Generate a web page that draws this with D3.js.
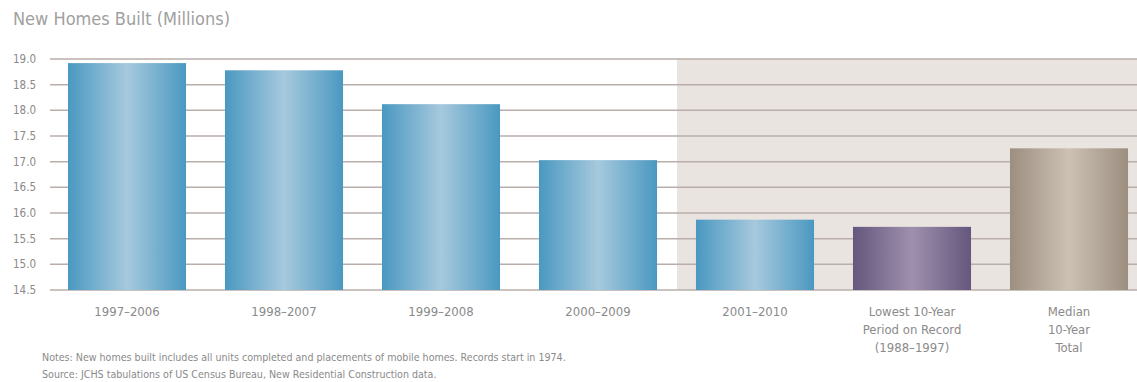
<!DOCTYPE html>
<html><head><meta charset="utf-8">
<script src="https://cdn.jsdelivr.net/npm/d3@7"></script>
<style>
body{margin:0;background:#fff;}
text{font-family:"Liberation Sans Narrow","DejaVu Sans Condensed","Roboto",sans-serif;}
</style></head>
<body><svg id="c" width="1137" height="382"></svg>
<script>
const categories = ["1997–2006","1998–2007","1999–2008","2000–2009","2001–2010","Lowest 10-Year|Period on Record|(1988–1997)","Median|10-Year|Total"];
const values = [18.92, 18.78, 18.12, 17.03, 15.87, 15.73, 17.26];
const barStyles = ["blue","blue","blue","blue","blue","purple","taupe"];
const yTicks = [14.5,15.0,15.5,16.0,16.5,17.0,17.5,18.0,18.5,19.0];
const title = "New Homes Built (Millions)";
const notes = ["Notes: New homes built includes all units completed and placements of mobile homes. Records start in 1974.",
               "Source: JCHS tabulations of US Census Bureau, New Residential Construction data."];

const svg = d3.select("#c");
const defs = svg.append("defs");
const grads = {blue:["#4a98c1","#a6c9dd"], purple:["#65577d","#9e90ad"], taupe:["#9c8f80","#cdc1b4"]};
Object.entries(grads).forEach(([k,[e,c]])=>{
  const g = defs.append("linearGradient").attr("id","g-"+k).attr("x1","0").attr("x2","1").attr("y1","0").attr("y2","0");
  g.append("stop").attr("offset","0%").attr("stop-color",e);
  g.append("stop").attr("offset","50%").attr("stop-color",c);
  g.append("stop").attr("offset","100%").attr("stop-color",e);
});

const y = d3.scaleLinear().domain([14.5,19.0]).range([290,59]);
const x = d3.scaleBand().domain(categories).range([48.5,1147.5]).paddingInner(0.248).paddingOuter(0.124);

// shaded region
svg.append("rect").attr("x",677).attr("y",y(19.0)).attr("width",1137-677).attr("height",y(14.5)-y(19.0)).attr("fill","#e9e4e0");

// gridlines
svg.append("g").selectAll("line").data(yTicks).join("line")
  .attr("x1",50).attr("x2",1137).attr("y1",d=>y(d)).attr("y2",d=>y(d))
  .attr("stroke","#b9aeaa").attr("stroke-width",1.5);

// y labels
svg.append("g").selectAll("text").data(yTicks).join("text")
  .attr("x",13).attr("y",d=>y(d)+4).attr("font-size",11.5).attr("fill","#8a8a8a")
  .text(d=>d.toFixed(1));

// bars
svg.append("g").selectAll("rect").data(categories).join("rect")
  .attr("x",d=>x(d)).attr("width",x.bandwidth())
  .attr("y",(d,i)=>y(values[i])).attr("height",(d,i)=>y(14.5)-y(values[i]))
  .attr("fill",(d,i)=>"url(#g-"+barStyles[i]+")");

// category labels
const cl = svg.append("g");
categories.forEach(c=>{
  const lines = c.split("|");
  const t = cl.append("text").attr("text-anchor","middle").attr("font-size",13).attr("fill","#8a8a8a");
  lines.forEach((l,j)=>t.append("tspan").attr("x",x(c)+x.bandwidth()/2).attr("y",316+j*18).text(l));
});

// title
svg.append("text").attr("x",13).attr("y",25).attr("font-size",18).attr("fill","#a0a0a0").text(title);

// notes
notes.forEach((n,i)=>svg.append("text").attr("x",42).attr("y",361+i*17).attr("font-size",10.6).attr("fill","#8a8a8a").text(n));
</script></body></html>
